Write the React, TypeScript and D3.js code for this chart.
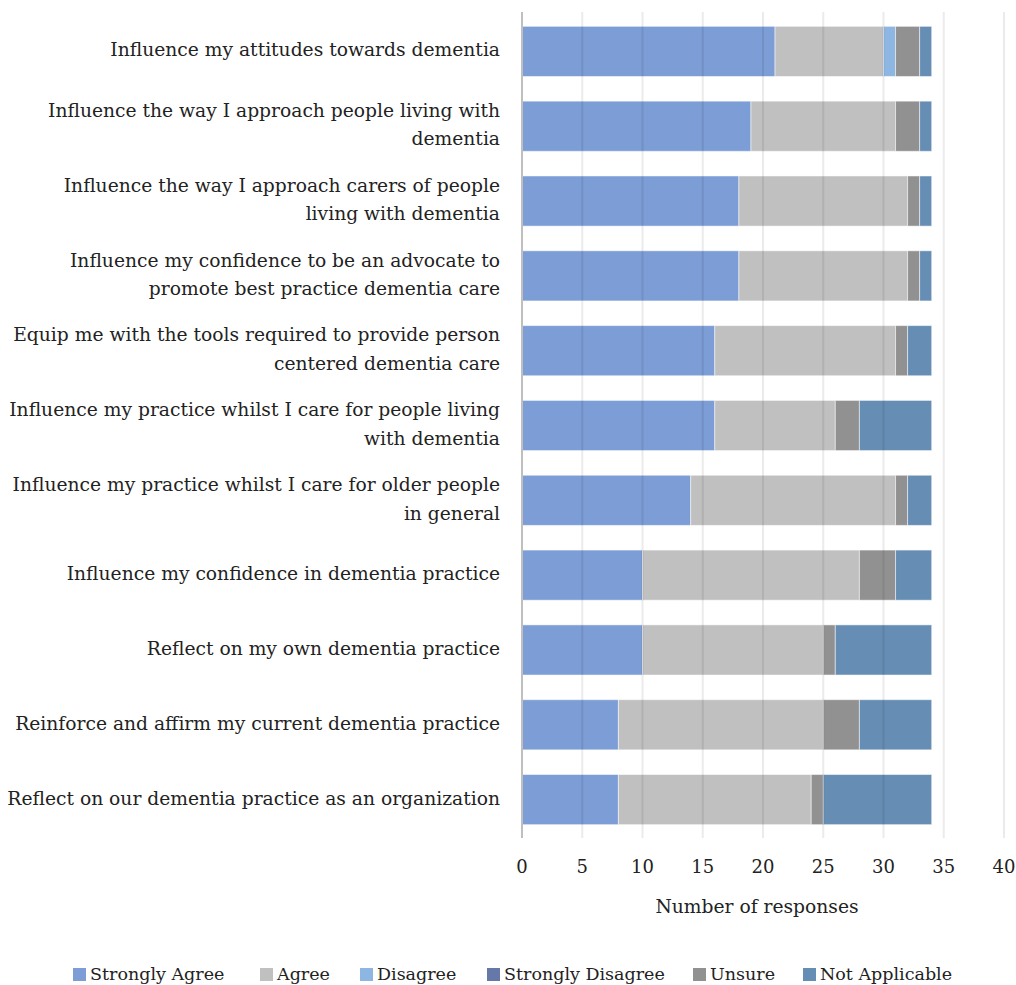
import React from "react";
import * as d3 from "d3";

const categories = [
  "Influence my attitudes towards dementia",
  "Influence the way I approach people living with\ndementia",
  "Influence the way I approach carers of people\nliving with dementia",
  "Influence my confidence to be an advocate to\npromote best practice dementia care",
  "Equip me with the tools required to provide person\ncentered dementia care",
  "Influence my practice whilst I care for people living\nwith dementia",
  "Influence my practice whilst I care for older people\nin general",
  "Influence my confidence in dementia practice",
  "Reflect on my own dementia practice",
  "Reinforce and affirm my current dementia practice",
  "Reflect on our dementia practice as an organization",
];

const seriesNames = ["Strongly Agree", "Agree", "Disagree", "Strongly Disagree", "Unsure", "Not Applicable"];
const seriesColors = ["#7C9DD5", "#C0C0C0", "#8DB7E2", "#6678A8", "#919191", "#668DB3"];

const stronglyAgree = [21, 19, 18, 18, 16, 16, 14, 10, 10, 8, 8];
const agree = [9, 12, 14, 14, 15, 10, 17, 18, 15, 17, 16];
const disagree = [1, 0, 0, 0, 0, 0, 0, 0, 0, 0, 0];
const stronglyDisagree = [0, 0, 0, 0, 0, 0, 0, 0, 0, 0, 0];
const unsure = [2, 2, 1, 1, 1, 2, 1, 3, 1, 3, 1];
const notApplicable = [1, 1, 1, 1, 2, 6, 2, 3, 8, 6, 9];

const xTicks = [0, 5, 10, 15, 20, 25, 30, 35, 40];
const xTitle = "Number of responses";

const W = 1016;
const H = 985;
const FONT = "'DejaVu Serif', serif";
const FS = 18.7;

export default function App() {
  const seriesValues = [stronglyAgree, agree, disagree, stronglyDisagree, unsure, notApplicable];
  const rows = categories.map((c, i) => {
    const r: any = { cat: c };
    seriesNames.forEach((s, j) => (r[s] = seriesValues[j][i]));
    return r;
  });
  const stack = d3.stack<any>().keys(seriesNames)(rows);

  const x = d3.scaleLinear().domain([0, 40]).range([522, 1004]);
  const y = d3
    .scaleBand<string>()
    .domain(categories)
    .range([14, 837])
    .paddingInner(0.33)
    .paddingOuter(0.165);

  const plotTop = 12;
  const plotBottom = 838;

  const legendX = [73, 260, 360, 487, 693, 803];
  const legendW = [0, 0, 0, 0, 0, 0];

  return (
    <svg
      width={W}
      height={H}
      style={{ position: "absolute", left: 0, top: 0, background: "#fff" }}
      fontFamily={FONT}
    >
      {stack.map((layer, li) => (
        <g key={li} fill={seriesColors[li]}>
          {layer.map((d, i) =>
            d[1] - d[0] > 0 ? (
              <rect
                key={i}
                x={x(d[0])}
                y={y(categories[i])}
                width={x(d[1]) - x(d[0])}
                height={y.bandwidth()}
                stroke="#ffffff"
                strokeOpacity={0.5}
                strokeWidth={1}
              />
            ) : null
          )}
        </g>
      ))}
      {xTicks.slice(1).map((t) => (
        <line
          key={t}
          x1={x(t)}
          x2={x(t)}
          y1={plotTop}
          y2={plotBottom}
          stroke="#000"
          strokeOpacity={0.08}
          strokeWidth={2}
        />
      ))}
      <line x1={x(0)} x2={x(0)} y1={plotTop} y2={plotBottom} stroke="#BFBFBF" strokeWidth={2} />
      {xTicks.map((t) => (
        <text key={t} x={x(t)} y={868} textAnchor="middle" dominantBaseline="middle" fontSize={18} fill="#222">
          {t}
        </text>
      ))}
      <text x={757} y={908} textAnchor="middle" dominantBaseline="middle" fontSize={FS} fill="#222">
        {xTitle}
      </text>
      {categories.map((c) => {
        const lines = c.split("\n");
        const cy = (y(c) as number) + y.bandwidth() / 2;
        const lh = 28.5;
        return (
          <text key={c} x={500} textAnchor="end" fontSize={FS} fill="#222">
            {lines.map((l, k) => (
              <tspan key={k} x={500} y={cy + (k - (lines.length - 1) / 2) * lh} dominantBaseline="middle">
                {l}
              </tspan>
            ))}
          </text>
        );
      })}
      {seriesNames.map((s, i) => (
        <g key={s}>
          <rect x={legendX[i]} y={968} width={13} height={13} fill={seriesColors[i]} />
          <text x={legendX[i] + 17} y={975} dominantBaseline="middle" fontSize={17.5} fill="#222">
            {s}
          </text>
        </g>
      ))}
    </svg>
  );
}
